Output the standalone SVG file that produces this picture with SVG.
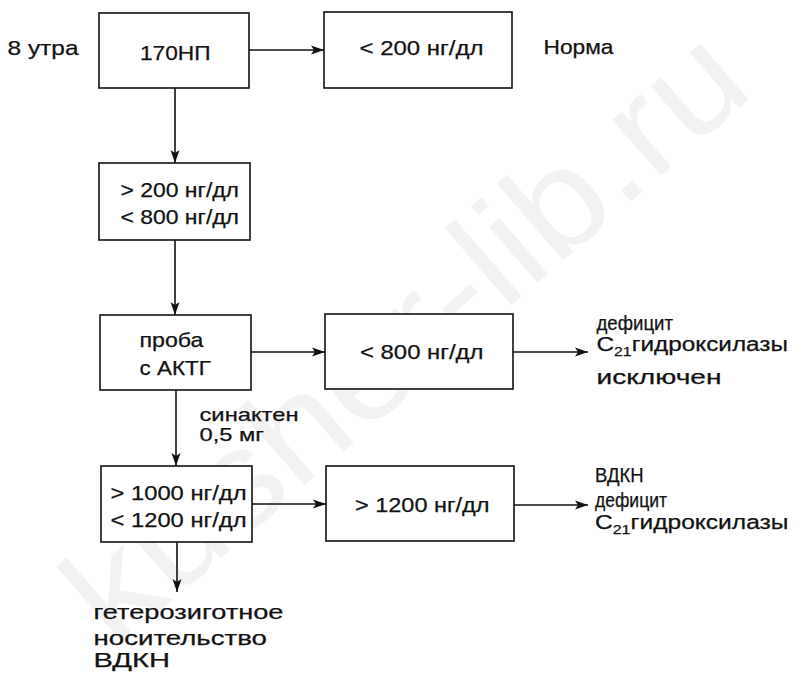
<svg xmlns="http://www.w3.org/2000/svg" width="809" height="674" viewBox="0 0 809 674">
<style>
  .box { fill: #fff; stroke: #111; stroke-width: 1.6; }
  text { font-family: "Liberation Sans", Arial, sans-serif; fill: #111; stroke: #111; stroke-width: 0.25; }
  .t { font-size: 21px; }
  .s { font-size: 20px; }
  .m { font-size: 19px; }
  .sub { font-size: 13px; }
  .wm { font-size: 140px; fill: #f2f2f2; stroke: none; }
  .conn line { stroke: #111; stroke-width: 1.6; marker-end: url(#arr); }
</style>
<defs>
  <marker id="arr" markerUnits="userSpaceOnUse" markerWidth="14" markerHeight="10" refX="13" refY="5" orient="auto">
    <path d="M0,0.5 L13,5 L0,9.5 L3,5 Z" fill="#111"/>
  </marker>
</defs>
<rect x="0" y="0" width="809" height="674" fill="#fff"/>
<text class="wm" x="115" y="650" transform="rotate(-41 115 650)" textLength="850" lengthAdjust="spacingAndGlyphs">kusher-lib.ru</text>

<g class="conn" id="connectors">
  <line x1="249" y1="50" x2="324" y2="50"/>
  <line x1="175" y1="88" x2="175" y2="163"/>
  <line x1="175" y1="240" x2="175" y2="315"/>
  <line x1="251" y1="352" x2="325" y2="352"/>
  <line x1="513" y1="352" x2="588" y2="352"/>
  <line x1="176" y1="390" x2="176" y2="466"/>
  <line x1="252" y1="504" x2="326" y2="504"/>
  <line x1="514" y1="505" x2="588" y2="505"/>
  <line x1="177" y1="542" x2="177" y2="592"/>
</g>

<g id="label-8am"><text class="t" x="7.5" y="55" textLength="71" lengthAdjust="spacingAndGlyphs">8 утра</text></g>

<g id="n1">
  <rect class="box" x="99" y="13" width="150" height="75"/>
  <text class="t" x="140" y="60" textLength="70.5" lengthAdjust="spacingAndGlyphs">170НП</text>
</g>
<g id="n2">
  <rect class="box" x="324" y="12" width="188" height="76"/>
  <text class="t" x="359.5" y="55" textLength="124" lengthAdjust="spacingAndGlyphs">&lt; 200 нг/дл</text>
</g>
<g id="label-norm"><text class="t" x="543.5" y="54" textLength="70" lengthAdjust="spacingAndGlyphs">Норма</text></g>

<g id="n3">
  <rect class="box" x="99" y="163" width="151" height="77"/>
  <text class="t" x="120.5" y="197" textLength="118.5" lengthAdjust="spacingAndGlyphs">&gt; 200 нг/дл</text>
  <text class="t" x="120.5" y="224" textLength="118.5" lengthAdjust="spacingAndGlyphs">&lt; 800 нг/дл</text>
</g>

<g id="n4">
  <rect class="box" x="100" y="315" width="151" height="75"/>
  <text class="t" x="139.5" y="346.5" textLength="64" lengthAdjust="spacingAndGlyphs">проба</text>
  <text class="t" x="139.5" y="375" textLength="71.5" lengthAdjust="spacingAndGlyphs">с АКТГ</text>
</g>
<g id="n5">
  <rect class="box" x="325" y="314" width="188" height="75"/>
  <text class="t" x="360" y="358.5" textLength="123.5" lengthAdjust="spacingAndGlyphs">&lt; 800 нг/дл</text>
</g>
<g id="label-excluded">
  <text class="s" x="596.5" y="330" textLength="76.5" lengthAdjust="spacingAndGlyphs">дефицит</text>
  <text class="s" x="596.5" y="351" textLength="191.5" lengthAdjust="spacingAndGlyphs">C<tspan class="sub" dy="5">21</tspan><tspan dy="-5">гидроксилазы</tspan></text>
  <text class="s" x="596.5" y="383.5" textLength="125" lengthAdjust="spacingAndGlyphs">исключен</text>
</g>

<g id="label-synacthen">
  <text class="m" x="199.5" y="420.5" textLength="99" lengthAdjust="spacingAndGlyphs">синактен</text>
  <text class="m" x="199.5" y="441" textLength="64.5" lengthAdjust="spacingAndGlyphs">0,5 мг</text>
</g>

<g id="n6">
  <rect class="box" x="101" y="466" width="151" height="76"/>
  <text class="t" x="110.5" y="499.5" textLength="136" lengthAdjust="spacingAndGlyphs">&gt; 1000 нг/дл</text>
  <text class="t" x="110.5" y="526.5" textLength="136" lengthAdjust="spacingAndGlyphs">&lt; 1200 нг/дл</text>
</g>
<g id="n7">
  <rect class="box" x="326" y="466" width="188" height="75"/>
  <text class="t" x="355" y="511.5" textLength="134.5" lengthAdjust="spacingAndGlyphs">&gt; 1200 нг/дл</text>
</g>
<g id="label-vdkn">
  <text class="s" x="595" y="481.5" textLength="48.5" lengthAdjust="spacingAndGlyphs">ВДКН</text>
  <text class="s" x="595" y="506.5" textLength="72" lengthAdjust="spacingAndGlyphs">дефицит</text>
  <text class="s" x="595" y="528.5" textLength="193.5" lengthAdjust="spacingAndGlyphs">C<tspan class="sub" dy="5">21</tspan><tspan dy="-5">гидроксилазы</tspan></text>
</g>

<g id="label-hetero">
  <text class="t" x="93.5" y="618.5" textLength="190" lengthAdjust="spacingAndGlyphs">гетерозиготное</text>
  <text class="t" x="93.5" y="645" textLength="173.5" lengthAdjust="spacingAndGlyphs">носительство</text>
  <text class="t" x="93.5" y="667" textLength="76.5" lengthAdjust="spacingAndGlyphs">ВДКН</text>
</g>
</svg>
